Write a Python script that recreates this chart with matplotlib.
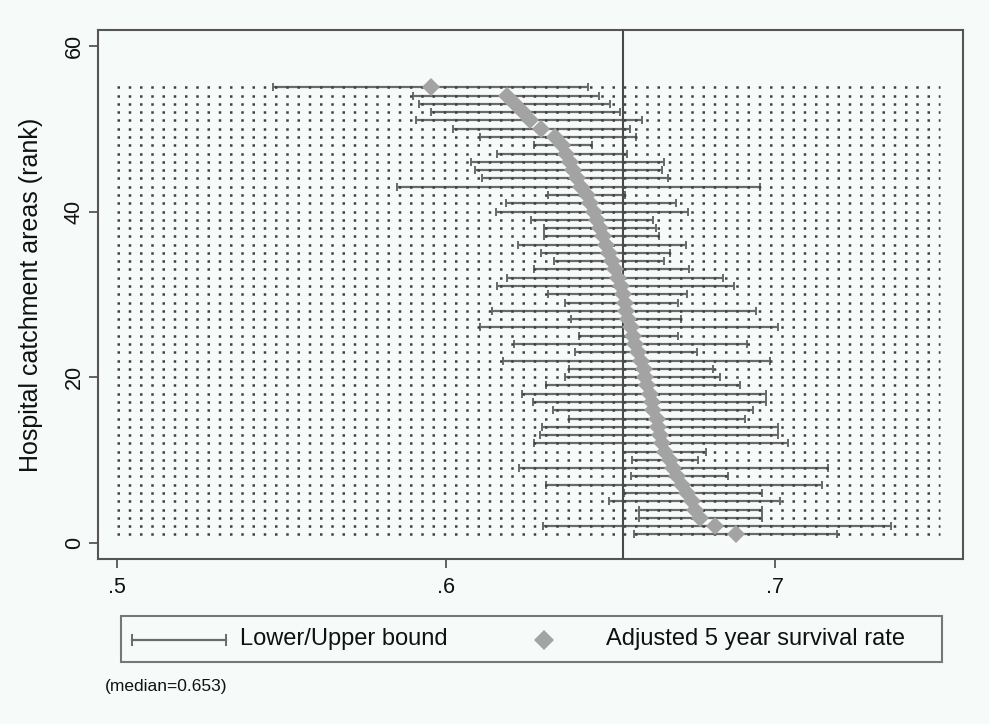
import numpy as np
import matplotlib
matplotlib.use("Agg")
import matplotlib.pyplot as plt
from matplotlib.lines import Line2D
from matplotlib.patches import Rectangle

plt.rcParams['font.family'] = ['Liberation Sans', 'DejaVu Sans']

# rank 1 (bottom) .. rank 55 (top)
ranks = np.arange(1, 56)
estimate = [0.6881, 0.6818, 0.6772, 0.6757, 0.6747, 0.6732, 0.6716, 0.6701, 0.6691, 0.6681,
            0.6666, 0.6655, 0.6650, 0.6645, 0.6640, 0.6630, 0.6625, 0.6620, 0.6610, 0.6605,
            0.6600, 0.6593, 0.6584, 0.6574, 0.6567, 0.6561, 0.6554, 0.6547, 0.6545, 0.6539,
            0.6531, 0.6522, 0.6512, 0.6503, 0.6496, 0.6486, 0.6476, 0.6468, 0.6458, 0.6448,
            0.6438, 0.6428, 0.6411, 0.6399, 0.6387, 0.6377, 0.6365, 0.6352, 0.6331, 0.6288,
            0.6255, 0.6235, 0.6210, 0.6185, 0.5953]
lower = [0.6571, 0.6294, 0.6585, 0.6585, 0.6494, 0.6540, 0.6304, 0.6561, 0.6223, 0.6564,
         0.6537, 0.6267, 0.6284, 0.6291, 0.6372, 0.6326, 0.6264, 0.6230, 0.6304, 0.6362,
         0.6372, 0.6172, 0.6392, 0.6207, 0.6405, 0.6103, 0.6379, 0.6139, 0.6362, 0.6311,
         0.6156, 0.6186, 0.6267, 0.6328, 0.6288, 0.6217, 0.6298, 0.6298, 0.6257, 0.6152,
         0.6182, 0.6311, 0.5852, 0.6108, 0.6088, 0.6075, 0.6156, 0.6268, 0.6103, 0.6022,
         0.5909, 0.5953, 0.5919, 0.5898, 0.5473]
upper = [0.7189, 0.7352, 0.6959, 0.6959, 0.7015, 0.6959, 0.7142, 0.6858, 0.7162, 0.6767,
         0.6790, 0.7040, 0.7010, 0.7010, 0.6909, 0.6934, 0.6973, 0.6973, 0.6894, 0.6833,
         0.6810, 0.6985, 0.6762, 0.6914, 0.6706, 0.7010, 0.6714, 0.6942, 0.6706, 0.6731,
         0.6875, 0.6843, 0.6737, 0.6661, 0.6681, 0.6729, 0.6646, 0.6638, 0.6630, 0.6736,
         0.6699, 0.6544, 0.6954, 0.6675, 0.6656, 0.6663, 0.6549, 0.6442, 0.6578, 0.6560,
         0.6595, 0.6529, 0.6498, 0.6465, 0.6430]
median = 0.6538
median_text = '(median=0.653)'
guide_lo, guide_hi = 0.5, 0.75

xticks = [0.5, 0.6, 0.7]
xtick_labels = ['.5', '.6', '.7']
yticks = [0, 20, 40, 60]

bg = '#f6faf8'
W, H = 989, 724

fig = plt.figure(figsize=(W / 100, H / 100), dpi=100, facecolor=bg)
ax = fig.add_axes([98 / W, 1 - 559 / H, (963 - 98) / W, (559 - 30) / H])
ax.set_facecolor(bg)

est = np.array(estimate)
lo = np.array(lower)
hi = np.array(upper)

# dotted guide rows
ax.hlines(ranks, guide_lo, guide_hi, colors='#404040', linewidth=1.8,
          linestyles=(0, (1, 3.5)), zorder=3)

# confidence intervals
ax.errorbar(est, ranks, xerr=[est - lo, hi - est], fmt='none', ecolor='#6a6a6a',
            elinewidth=1.6, capsize=3, capthick=1.4, zorder=2)

# median line
ax.axvline(median, color='#4a4a4a', linewidth=1.5, zorder=4)

# estimates
ax.plot(est, ranks, linestyle='none', marker='D', markersize=9.5, color='#a3a3a3',
        markeredgewidth=0, zorder=5)

ax.set_xlim(0.4942, 0.7571)
ax.set_ylim(-1.97, 61.93)
ax.set_xticks(xticks)
ax.set_xticklabels(xtick_labels)
ax.set_yticks(yticks)
ax.set_yticklabels([str(v) for v in yticks], rotation=90, va='center')
ax.tick_params(axis='both', direction='out', length=6.5, width=1.3, color='#555555',
               labelsize=15.5, labelcolor='#111111')
ax.tick_params(axis='x', pad=6.5)
ax.tick_params(axis='y', pad=3)
for s in ax.spines.values():
    s.set_color('#555555')
    s.set_linewidth(1.5)
ax.set_ylabel('Hospital catchment areas (rank)', fontsize=18, color='#111111')
ax.yaxis.set_label_coords(-(98 - 43) / (963 - 98), 0.5)

# legend box (figure pixel coordinates)
def fx(px):
    return px / W

def fy(py):
    return 1 - py / H

fig.patches.append(Rectangle((fx(121), fy(662)), fx(942) - fx(121), fy(616) - fy(662),
                             transform=fig.transFigure, facecolor=bg, edgecolor='#777777',
                             linewidth=1.5))
ky = fy(639.5)
fig.add_artist(Line2D([fx(132), fx(226)], [ky, ky], color='#6a6a6a', linewidth=1.6))
for cx in (132, 226):
    fig.add_artist(Line2D([fx(cx)], [ky], marker='|', markersize=9, markeredgewidth=1.4,
                          color='#6a6a6a'))
fig.add_artist(Line2D([fx(544)], [ky], marker='D', markersize=10, color='#a3a3a3',
                      markeredgewidth=0))
fig.text(fx(240), ky, 'Lower/Upper bound', fontsize=17, va='center', ha='left', color='#111111')
fig.text(fx(606), ky, 'Adjusted 5 year survival rate', fontsize=17, va='center', ha='left',
         color='#111111')
fig.text(fx(105), fy(686), median_text, fontsize=12.5, va='center', ha='left',
         color='#111111')

fig.savefig('out.png', dpi=100, facecolor=bg)
